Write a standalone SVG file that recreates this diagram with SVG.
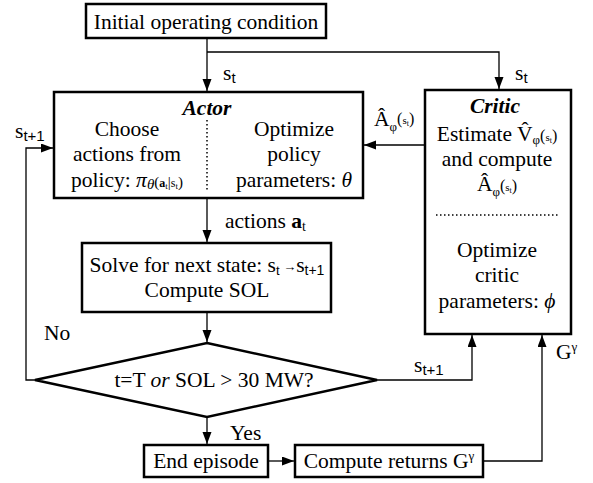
<svg xmlns="http://www.w3.org/2000/svg" width="593" height="483" viewBox="0 0 593 483">
<style>
  .box { fill: #fff; stroke: #000; stroke-width: 2.5; }
  .conn { fill: none; stroke: #000; stroke-width: 1.3; }
  .dot { fill: none; stroke: #000; stroke-width: 1.5; stroke-dasharray: 1.5 2.5; }
</style>
<defs>
  <marker id="ah" markerUnits="userSpaceOnUse" markerWidth="13" markerHeight="10" refX="12" refY="4.5" orient="auto">
    <path d="M0,0 L12,4.5 L0,9 z" fill="#000"/>
  </marker>
</defs>
<rect width="593" height="483" fill="#fff"/>

<g id="connectors">
  <path class="conn" d="M207,38 V91" marker-end="url(#ah)"/>
  <path class="conn" d="M207,52 H499 V89" marker-end="url(#ah)"/>
  <path class="conn" d="M425,145 H364" marker-end="url(#ah)"/>
  <path class="conn" d="M207,198 V242" marker-end="url(#ah)"/>
  <path class="conn" d="M207,312 V342" marker-end="url(#ah)"/>
  <path class="conn" d="M35,380 H26 V148 H53" marker-end="url(#ah)"/>
  <path class="conn" d="M377,380 H472 V335" marker-end="url(#ah)"/>
  <path class="conn" d="M207,417 V444" marker-end="url(#ah)"/>
  <path class="conn" d="M268,461 H294" marker-end="url(#ah)"/>
  <path class="conn" d="M483,461 H542 V335" marker-end="url(#ah)"/>
  <text x="223" y="80" font-family="Liberation Serif" font-size="21.5">s<tspan font-family="Liberation Sans" font-size="15" dy="3">t</tspan></text>
  <text x="515" y="80" font-family="Liberation Serif" font-size="21.5">s<tspan font-family="Liberation Sans" font-size="15" dy="3">t</tspan></text>
  <text x="374" y="126" font-family="Liberation Serif" font-size="21.5">Â<tspan font-size="13" dy="5">φ</tspan><tspan font-size="16" dy="-7">(</tspan><tspan font-size="11">s</tspan><tspan font-size="8" dy="2">t</tspan><tspan font-size="16" dy="-2">)</tspan></text>
  <text x="15" y="138" font-family="Liberation Serif" font-size="21.5">s<tspan font-family="Liberation Sans" font-size="15" dy="3">t+1</tspan></text>
  <text x="225" y="228" font-family="Liberation Serif" font-size="21.5">actions <tspan font-weight="bold">a</tspan><tspan font-size="14" dy="3">t</tspan></text>
  <text x="44" y="340" font-family="Liberation Serif" font-size="21.5">No</text>
  <text x="414" y="372" font-family="Liberation Serif" font-size="21.5">s<tspan font-family="Liberation Sans" font-size="15" dy="3">t+1</tspan></text>
  <text x="556" y="359" font-family="Liberation Serif" font-size="21.5">G<tspan font-size="13" dy="-8">γ</tspan></text>
  <text x="230" y="440" font-family="Liberation Serif" font-size="21.5">Yes</text>
</g>

<g id="initial">
  <rect class="box" x="86" y="4" width="240" height="34"/>
  <text x="206" y="29" text-anchor="middle" font-family="Liberation Serif" font-size="21.5">Initial operating condition</text>
</g>

<g id="actor">
  <rect class="box" x="54" y="92" width="309" height="106"/>
  <text x="207" y="115" text-anchor="middle" font-family="Liberation Serif" font-size="21.5" font-weight="bold" font-style="italic">Actor</text>
  <line class="dot" x1="207" y1="120" x2="207" y2="190"/>
  <text x="127" y="136" text-anchor="middle" font-family="Liberation Serif" font-size="21.5">Choose</text>
  <text x="127" y="161" text-anchor="middle" font-family="Liberation Serif" font-size="21.5">actions from</text>
  <text x="127" y="187" text-anchor="middle" font-family="Liberation Serif" font-size="21.5">policy: <tspan font-style="italic">π</tspan><tspan font-style="italic" font-size="15" dy="2">θ</tspan><tspan font-size="15" dy="-2">(</tspan><tspan font-weight="bold" font-size="12">a</tspan><tspan font-size="9" dy="2">t</tspan><tspan font-size="15" dy="-2">|</tspan><tspan font-size="12">s</tspan><tspan font-size="9" dy="2">t</tspan><tspan font-size="15" dy="-2">)</tspan></text>
  <text x="294" y="136" text-anchor="middle" font-family="Liberation Serif" font-size="21.5">Optimize</text>
  <text x="294" y="161" text-anchor="middle" font-family="Liberation Serif" font-size="21.5">policy</text>
  <text x="294" y="187" text-anchor="middle" font-family="Liberation Serif" font-size="21.5">parameters: <tspan font-style="italic">θ</tspan></text>
</g>

<g id="critic">
  <rect class="box" x="425" y="90" width="146" height="244"/>
  <text x="495" y="113" text-anchor="middle" font-family="Liberation Serif" font-size="21.5" font-weight="bold" font-style="italic">Critic</text>
  <text x="497" y="141" text-anchor="middle" font-family="Liberation Serif" font-size="21.5">Estimate V̂<tspan font-size="13" dy="3">φ</tspan><tspan font-size="16" dy="-3">(</tspan><tspan font-size="11">s</tspan><tspan font-size="8" dy="2">t</tspan><tspan font-size="16" dy="-2">)</tspan></text>
  <text x="497" y="166" text-anchor="middle" font-family="Liberation Serif" font-size="21.5">and compute</text>
  <text x="497" y="191" text-anchor="middle" font-family="Liberation Serif" font-size="21.5">Â<tspan font-size="13" dy="5">φ</tspan><tspan font-size="16" dy="-5">(</tspan><tspan font-size="11">s</tspan><tspan font-size="8" dy="2">t</tspan><tspan font-size="16" dy="-2">)</tspan></text>
  <line class="dot" x1="436" y1="215" x2="560" y2="215"/>
  <text x="497" y="257" text-anchor="middle" font-family="Liberation Serif" font-size="21.5">Optimize</text>
  <text x="497" y="282" text-anchor="middle" font-family="Liberation Serif" font-size="21.5">critic</text>
  <text x="497" y="308" text-anchor="middle" font-family="Liberation Serif" font-size="21.5">parameters: <tspan font-style="italic">ϕ</tspan></text>
</g>

<g id="solve">
  <rect class="box" x="82" y="243" width="249" height="69"/>
  <text x="207" y="272" text-anchor="middle" font-family="Liberation Serif" font-size="21.5">Solve for next state: s<tspan font-family="Liberation Sans" font-size="13" dy="3">t</tspan><tspan font-family="Liberation Sans" font-size="13" dy="-4"> →</tspan><tspan dy="1">s</tspan><tspan font-family="Liberation Sans" font-size="14" dy="3">t+1</tspan></text>
  <text x="207" y="297" text-anchor="middle" font-family="Liberation Serif" font-size="21.5">Compute SOL</text>
</g>

<g id="decision">
  <polygon points="207,343 377,380 207,417 35,380" fill="#fff" stroke="#000" stroke-width="2.5"/>
  <text x="214" y="387" text-anchor="middle" font-family="Liberation Serif" font-size="21.5">t=T <tspan font-style="italic">or</tspan> SOL &gt; 30 MW?</text>
</g>

<g id="end">
  <rect class="box" x="144" y="445" width="124" height="32"/>
  <text x="206" y="468" text-anchor="middle" font-family="Liberation Serif" font-size="21.5">End episode</text>
</g>

<g id="returns">
  <rect class="box" x="295" y="445" width="188" height="32"/>
  <text x="389" y="468" text-anchor="middle" font-family="Liberation Serif" font-size="21.5">Compute returns G<tspan font-size="13" dy="-8">γ</tspan></text>
</g>
</svg>
